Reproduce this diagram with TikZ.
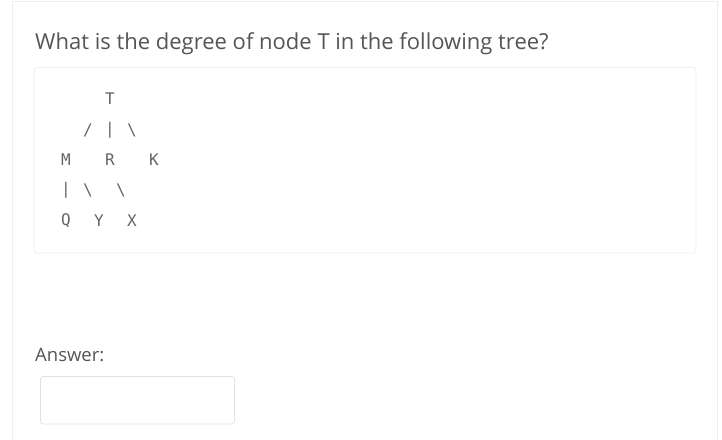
\documentclass[tikz,border=0pt]{standalone}
\usepackage{fontspec}
\setmainfont{Open Sans}
\newfontfamily\codefont{DejaVu Sans Mono}
\definecolor{qtext}{HTML}{555555}
\definecolor{ctext}{HTML}{666666}
\definecolor{cardline}{HTML}{EEEEEE}
\definecolor{codeline}{HTML}{E8F0F6}
\definecolor{boxline}{HTML}{DCE2E6}
\begin{document}
\begin{tikzpicture}[x=1pt,y=-1pt,
  ch/.style={font=\codefont\fontsize{16}{16}\selectfont, text=ctext, inner sep=0pt, anchor=center},
  panel/.style={draw=codeline, line width=0.8pt, rounded corners=3pt, fill=white}]
\useasboundingbox[fill=white] (0,0) rectangle (722,439);
% outer card
\draw[cardline, line width=0.8pt] (12,445) -- (12,1.5) -- (717.5,1.5) -- (717.5,445);
% question
\node[anchor=base west, inner sep=0pt, text=qtext, font=\fontsize{22}{26}\selectfont] (q) at (35,49) {What is the degree of node T in the following tree?};
% code panel
\draw[panel] (34,67.5) rectangle (696,253);
% tree rows
\node[ch] (T) at (110,99) {T};
\node[ch] (e1) at (88,130) {/};
\node[ch] (e2) at (110,130) {|};
\node[ch] (e3) at (132,130) {\textbackslash};
\node[ch] (M) at (66,160) {M};
\node[ch] (R) at (110,160) {R};
\node[ch] (K) at (154,160) {K};
\node[ch] (e4) at (66,190) {|};
\node[ch] (e5) at (88,190) {\textbackslash};
\node[ch] (e6) at (121,190) {\textbackslash};
\node[ch] (Q) at (66,221) {Q};
\node[ch] (Y) at (99,221) {Y};
\node[ch] (X) at (132,221) {X};
% answer
\node[anchor=base west, inner sep=0pt, text=qtext, font=\fontsize{18.5}{22}\selectfont] (ans) at (35,361) {Answer:};
\draw[draw=boxline, line width=0.8pt, rounded corners=3pt] (40.5,376.5) rectangle (234.5,424);
\end{tikzpicture}
\end{document}
